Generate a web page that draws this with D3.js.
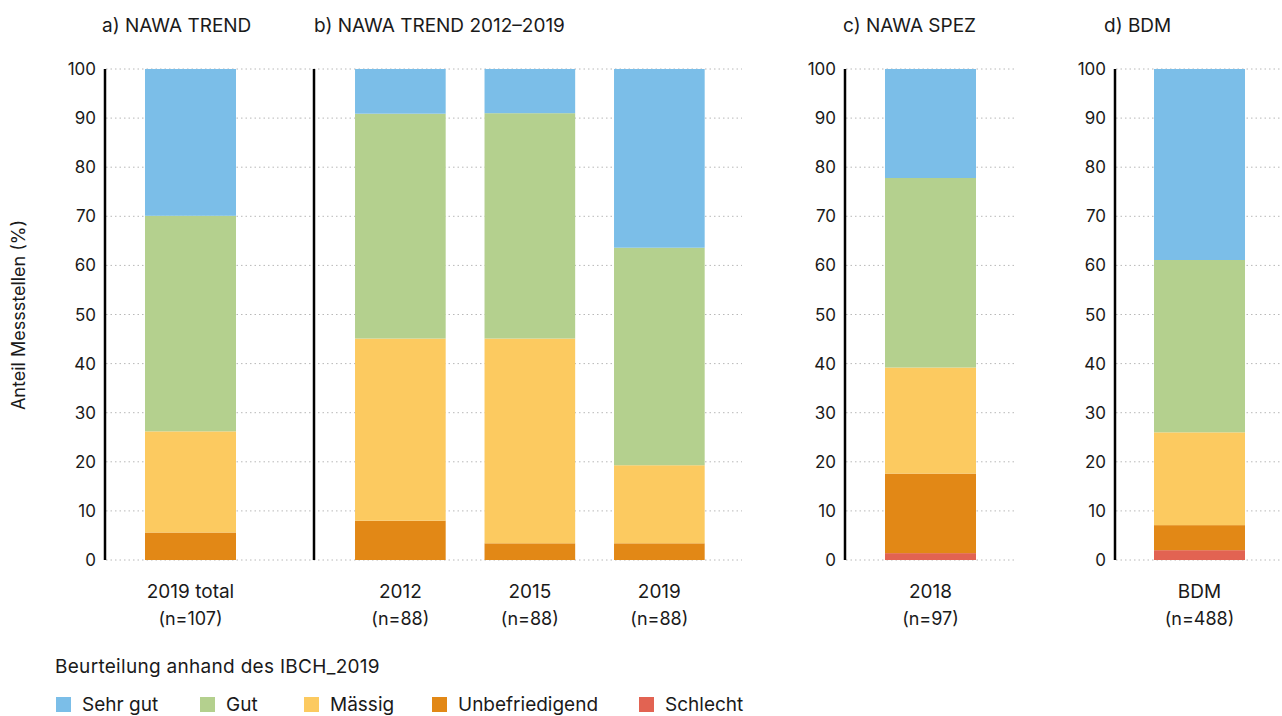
<!DOCTYPE html>
<html>
<head>
<meta charset="utf-8">
<script src="https://cdn.jsdelivr.net/npm/d3@7"></script>
<style>
  body { margin: 0; background: #fff; }
  text { font-family: Inter, sans-serif; fill: #1a1a1a; }
</style>
</head>
<body>
<svg id="chart" width="1282" height="716"></svg>
<script>
// categories, bottom of the stack last in the legend
const categories = ["Sehr gut", "Gut", "Mässig", "Unbefriedigend", "Schlecht"];
const colors = ["#7bbee8", "#b4d08e", "#fcca60", "#e28816", "#e26352"];

const panelTitles = ["a) NAWA TREND", "b) NAWA TREND 2012–2019", "c) NAWA SPEZ", "d) BDM"];
const barLabels = [["2019 total"], ["2012", "2015", "2019"], ["2018"], ["BDM"]];
const barN = [["(n=107)"], ["(n=88)", "(n=88)", "(n=88)"], ["(n=97)"], ["(n=488)"]];

// values in %, one per bar in the order of barLabels
const sehrGut        = [29.9, 9.1, 9.0, 36.4, 22.2, 38.9];
const gut            = [43.9, 45.8, 45.9, 44.3, 38.6, 35.1];
const maessig        = [20.6, 37.1, 41.7, 15.9, 21.6, 18.9];
const unbefriedigend = [5.6, 8.0, 3.4, 3.4, 16.2, 5.1];
const schlecht       = [0, 0, 0, 0, 1.4, 2.0];

const yTicks = [0, 10, 20, 30, 40, 50, 60, 70, 80, 90, 100];

const svg = d3.select('#chart');

const y = d3.scaleLinear().domain([0, 100]).range([560, 69]);

// build rows for the stack
let k = 0;
const rows = barLabels.map(labels => labels.map(lab => {
  const r = {label: lab, "Schlecht": schlecht[k], "Unbefriedigend": unbefriedigend[k],
             "Mässig": maessig[k], "Gut": gut[k], "Sehr gut": sehrGut[k]};
  k++;
  return r;
}));

const stackKeys = ["Schlecht", "Unbefriedigend", "Mässig", "Gut", "Sehr gut"];
const color = d3.scaleOrdinal().domain(categories).range(colors);

// panel layout: axis position, bar band range, grid extent, tick labels shown
const layout = [
  {axisX: 105, band: [125.5, 255.5], grid: [106, 300], ticks: true,  titleX: 102},
  {axisX: 314, band: [335.6, 724.1], grid: [300, 742], ticks: false, titleX: 314},
  {axisX: 845, band: [865.5, 995.5], grid: [846, 1015], ticks: true, titleX: 843},
  {axisX: 1115, band: [1134.5, 1264.5], grid: [1116, 1282], ticks: true, titleX: 1104}
];

layout.forEach((L, p) => {
  const g = svg.append('g');

  // dotted grid
  g.selectAll('line.grid')
    .data(yTicks)
    .enter()
    .append('line')
    .attr('class', 'grid')
    .attr('x1', L.grid[0]).attr('x2', L.grid[1])
    .attr('y1', d => y(d)).attr('y2', d => y(d))
    .style('stroke', '#b8b8b8')
    .style('stroke-width', 1)
    .style('stroke-dasharray', '1.5,3');

  const x = d3.scaleBand()
    .domain(barLabels[p])
    .range(L.band)
    .paddingInner(0.3)
    .paddingOuter(0.15);

  const series = d3.stack().keys(stackKeys)(rows[p]);

  g.selectAll('g.series')
    .data(series)
    .enter()
    .append('g')
    .attr('class', 'series')
    .style('fill', d => color(d.key))
    .selectAll('rect')
    .data(d => d)
    .enter()
    .append('rect')
    .attr('x', d => x(d.data.label))
    .attr('width', x.bandwidth())
    .attr('y', d => y(d[1]))
    .attr('height', d => y(d[0]) - y(d[1]));

  // vertical axis line
  g.append('line')
    .attr('x1', L.axisX).attr('x2', L.axisX)
    .attr('y1', y(100)).attr('y2', y(0))
    .style('stroke', '#000')
    .style('stroke-width', 2.5);

  if (L.ticks) {
    g.selectAll('text.tick')
      .data(yTicks)
      .enter()
      .append('text')
      .attr('class', 'tick')
      .attr('x', L.axisX - 9)
      .attr('y', d => y(d) + 6)
      .attr('text-anchor', 'end')
      .style('font-size', '17px')
      .text(d => d);
  }

  // x labels
  g.selectAll('text.xlab')
    .data(barLabels[p])
    .enter()
    .append('text')
    .attr('class', 'xlab')
    .attr('x', d => x(d) + x.bandwidth() / 2)
    .attr('y', 598)
    .attr('text-anchor', 'middle')
    .style('font-size', '19px')
    .text(d => d);

  g.selectAll('text.nlab')
    .data(barN[p])
    .enter()
    .append('text')
    .attr('class', 'nlab')
    .attr('x', (d, i) => x(barLabels[p][i]) + x.bandwidth() / 2)
    .attr('y', 625)
    .attr('text-anchor', 'middle')
    .style('font-size', '18px')
    .text(d => d);

  g.append('text')
    .attr('x', L.titleX)
    .attr('y', 32)
    .style('font-size', '19px')
    .text(panelTitles[p]);
});

// y axis title
svg.append('text')
  .attr('transform', 'translate(25, 315) rotate(-90)')
  .attr('text-anchor', 'middle')
  .style('font-size', '18px')
  .text('Anteil Messstellen (%)');

// legend
svg.append('text')
  .attr('x', 55).attr('y', 673)
  .style('font-size', '19px')
  .style('letter-spacing', '0.3px')
  .text('Beurteilung anhand des IBCH_2019');

const legendX = [56, 200, 304, 432, 639];
const leg = svg.selectAll('g.leg')
  .data(categories)
  .enter()
  .append('g')
  .attr('class', 'leg')
  .attr('transform', (d, i) => `translate(${legendX[i]}, 697)`);

leg.append('rect')
  .attr('width', 15).attr('height', 15)
  .style('fill', d => color(d));

leg.append('text')
  .attr('x', 26).attr('y', 14)
  .style('font-size', '19px')
  .text(d => d);
</script>
</body>
</html>
